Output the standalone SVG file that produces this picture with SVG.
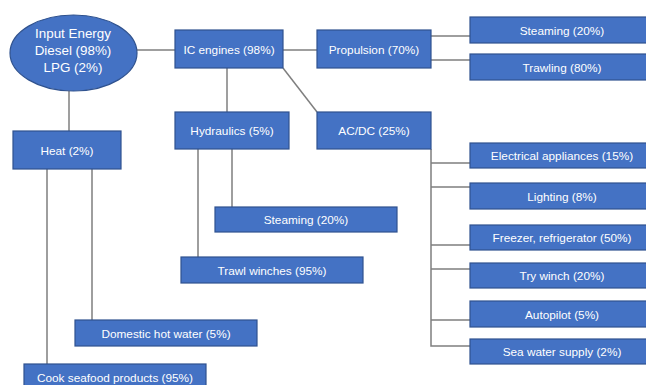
<svg xmlns="http://www.w3.org/2000/svg" width="646" height="385" viewBox="0 0 646 385">
<style>
.n{fill:#4472C4;stroke:#2F528F;stroke-width:1.2}
.t{fill:#fff;font-family:"Liberation Sans",Arial,sans-serif;font-size:11.8px;text-anchor:middle}
.e{font-size:13.4px}
#connectors path{fill:none;stroke:#7F7F7F;stroke-width:1.5}
</style>
<rect width="646" height="385" fill="#fff"/>
<g id="connectors">
<path d="M137 50H175"/>
<path d="M283 50H317"/>
<path d="M431 36H470M431 60H470"/>
<path d="M283 68L317 112"/>
<path d="M227 68V112"/>
<path d="M69 91V131"/>
<path d="M47 169V364M92 169V320"/>
<path d="M198 149V257M232 149V207"/>
<path d="M431 149V346H470M431 163H470M431 187H470M431 245H470M431 269H470M431 320H470"/>
</g>
<g id="input"><ellipse class="n" cx="73.5" cy="53" rx="63.5" ry="38"/><text class="t e" x="73" y="38">Input Energy</text><text class="t e" x="73" y="55">Diesel (98%)</text><text class="t e" x="73" y="72">LPG (2%)</text></g>
<g id="ic"><rect class="n" x="175" y="30" width="108" height="38"/><text class="t" x="229" y="53.5">IC engines (98%)</text></g>
<g id="prop"><rect class="n" x="317" y="30" width="114" height="38"/><text class="t" x="374" y="53.5">Propulsion (70%)</text></g>
<g id="steam1"><rect class="n" x="470" y="17" width="185" height="26"/><text class="t" x="562" y="34.5">Steaming (20%)</text></g>
<g id="trawl"><rect class="n" x="470" y="54" width="185" height="26"/><text class="t" x="562" y="71.5">Trawling (80%)</text></g>
<g id="acdc"><rect class="n" x="317" y="112" width="114" height="37"/><text class="t" x="374" y="135">AC/DC (25%)</text></g>
<g id="hyd"><rect class="n" x="175" y="112" width="114" height="37"/><text class="t" x="232" y="135">Hydraulics (5%)</text></g>
<g id="heat"><rect class="n" x="13" y="131" width="108" height="38"/><text class="t" x="67" y="154.5">Heat (2%)</text></g>
<g id="steam2"><rect class="n" x="215" y="207" width="182" height="25"/><text class="t" x="306" y="224">Steaming (20%)</text></g>
<g id="trawlw"><rect class="n" x="181" y="257" width="182" height="26"/><text class="t" x="272" y="274.5">Trawl winches (95%)</text></g>
<g id="dhw"><rect class="n" x="75" y="320" width="182" height="26"/><text class="t" x="166" y="337.5">Domestic hot water (5%)</text></g>
<g id="cook"><rect class="n" x="24" y="364" width="182" height="26"/><text class="t" x="115" y="381.5">Cook seafood products (95%)</text></g>
<g id="elec"><rect class="n" x="470" y="143" width="185" height="25"/><text class="t" x="562" y="160">Electrical appliances (15%)</text></g>
<g id="light"><rect class="n" x="470" y="183" width="185" height="26"/><text class="t" x="562" y="200.5">Lighting (8%)</text></g>
<g id="freezer"><rect class="n" x="470" y="225" width="185" height="25"/><text class="t" x="562" y="242">Freezer, refrigerator (50%)</text></g>
<g id="try"><rect class="n" x="470" y="263" width="185" height="25"/><text class="t" x="562" y="280">Try winch (20%)</text></g>
<g id="auto"><rect class="n" x="470" y="301" width="185" height="26"/><text class="t" x="562" y="318.5">Autopilot (5%)</text></g>
<g id="sea"><rect class="n" x="470" y="339" width="185" height="25"/><text class="t" x="562" y="356">Sea water supply (2%)</text></g>
</svg>
